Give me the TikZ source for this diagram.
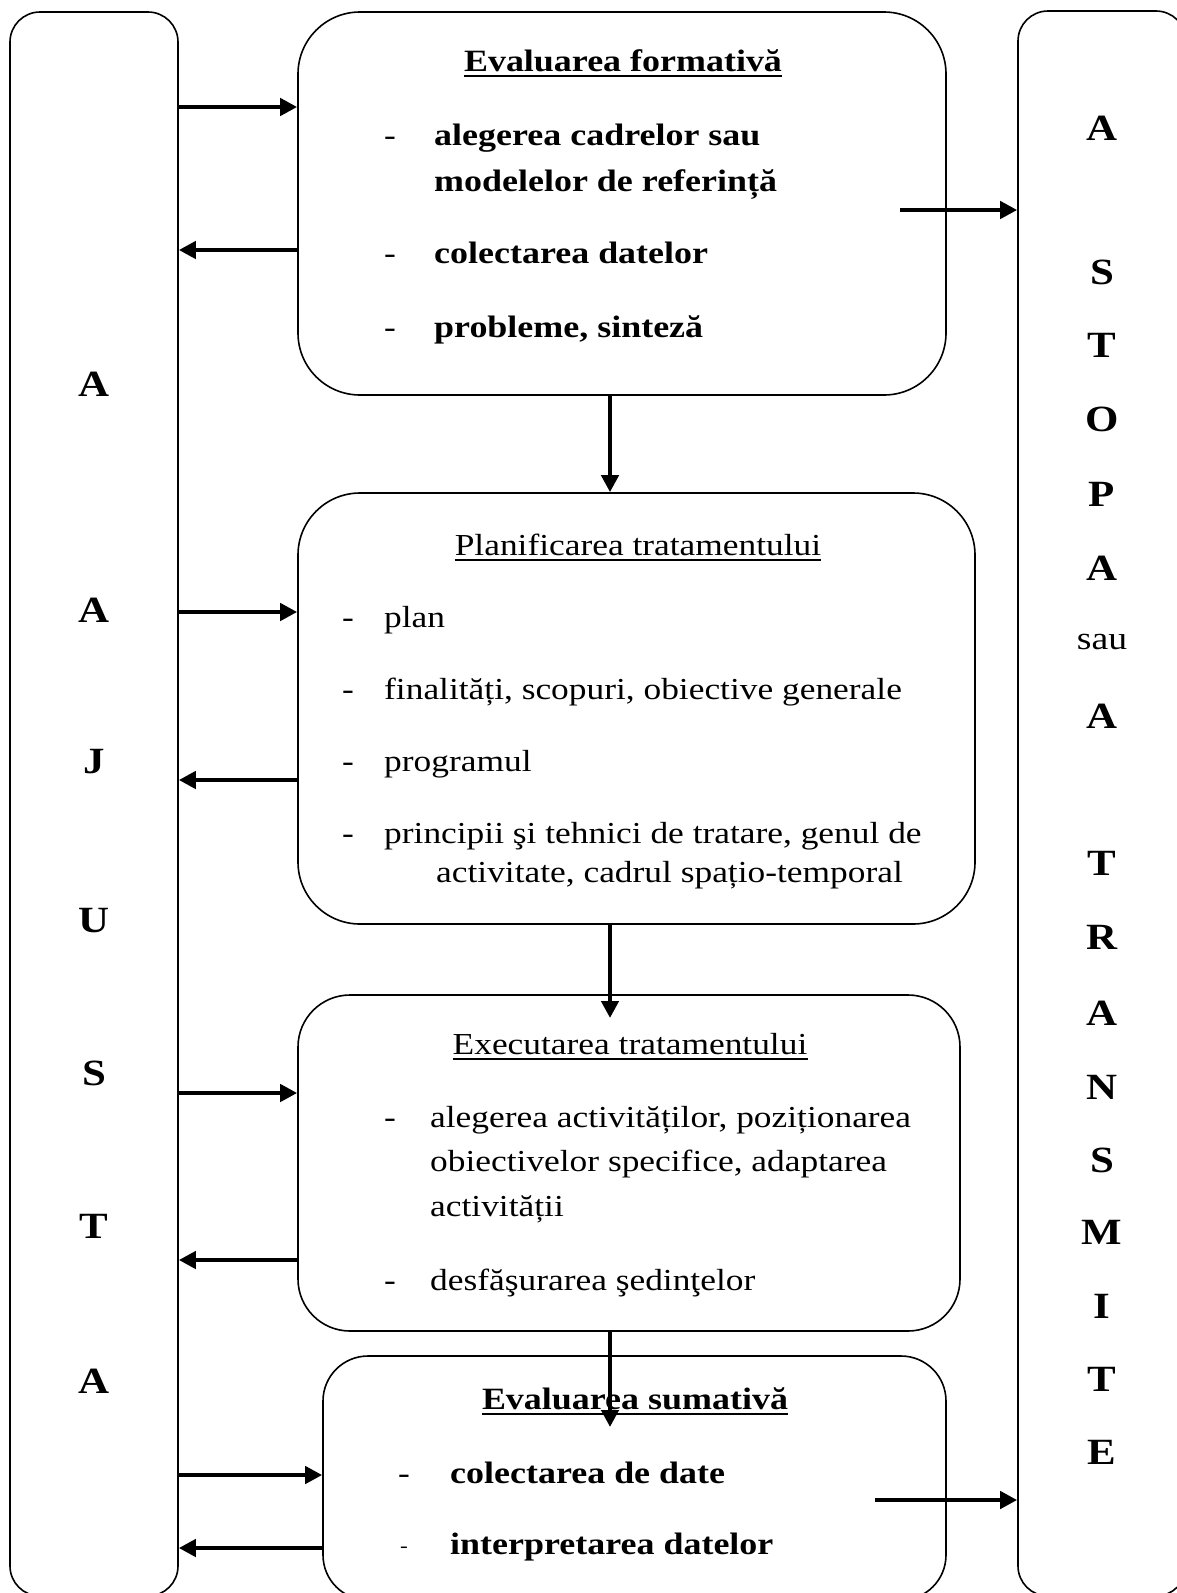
\documentclass[tikz,border=0pt]{standalone}
\usepackage{fontspec}
\setmainfont{Liberation Serif}[FakeStretch=1.16]
\usetikzlibrary{arrows.meta}
\begin{document}
\begin{tikzpicture}[x=1pt,y=-1pt,
  frame/.style={draw, line width=1.6pt, rectangle, inner sep=0pt},
  arr/.style={line width=4.5pt, -{Triangle[length=17pt,width=17pt]}},
  txt/.style={inner sep=0pt, anchor=base west, font=\fontsize{30.5}{36}\selectfont},
  txtb/.style={inner sep=0pt, anchor=base west, font=\fontsize{31}{36}\selectfont\bfseries},
  head/.style={inner sep=0pt, anchor=base, font=\fontsize{30.5}{36}\selectfont},
  headb/.style={inner sep=0pt, anchor=base, font=\fontsize{31}{36}\selectfont\bfseries},
  bullet/.style={inner sep=0pt, anchor=base, font=\fontsize{30.5}{36}\selectfont},
  letter/.style={inner sep=0pt, font=\fontsize{37}{42}\selectfont\bfseries},
  uline/.style={line width=1.6pt}
]
\clip (0,0) rectangle (1177,1593);

% side columns
\node[frame, rounded corners=30pt, minimum width=168pt, minimum height=1584pt] (L) at (94,804) {};
\node[frame, rounded corners=30pt, minimum width=168pt, minimum height=1585pt] (R) at (1102,803.5) {};

% stage boxes
\node[frame, rounded corners=62pt, minimum width=648pt, minimum height=383pt] (b1) at (622,203.5) {};
\node[frame, rounded corners=62pt, minimum width=677pt, minimum height=431pt] (b2) at (636.5,708.5) {};
\node[frame, rounded corners=52pt, minimum width=662pt, minimum height=336pt] (b3) at (629,1163) {};
\node[frame, rounded corners=45pt, minimum width=623pt, minimum height=244pt] (b4) at (634.5,1478) {};

% left column letters
\foreach \ch/\yy/\nm in {A/384/l1, A/610/l2, J/762/l3, U/921/l4, S/1073/l5, T/1226/l6, A/1381/l7}
  \node[letter] (\nm) at (94,\yy) {\ch};

% right column letters
\foreach \ch/\yy/\nm in {A/128/r1, S/272/r2, T/345/r3, O/419/r4, P/494/r5, A/568/r6,
    A/716/r8, T/863/r9, R/937/r10, A/1013/r11, N/1087/r12, S/1160/r13, M/1232/r14,
    I/1306/r15, T/1379/r16, E/1452/r17}
  \node[letter] (\nm) at (1102,\yy) {\ch};
\node[inner sep=0pt, font=\fontsize{32.5}{38}\selectfont] (r7) at (1102,642) {sau};

% box 1
\node[headb] (t1) at (623,71) {Evaluarea formativă};
\draw[uline] ([yshift=-5pt]t1.base west) -- ([yshift=-5pt]t1.base east);
\node[bullet] (d11) at (390,145) {-};
\node[txtb] (e11) at (434,145) {alegerea cadrelor sau};
\node[txtb] (e12) at (434,191) {modelelor de referință};
\node[bullet] (d12) at (390,263) {-};
\node[txtb] (e13) at (434,263) {colectarea datelor};
\node[bullet] (d13) at (390,337) {-};
\node[txtb] (e14) at (434,337) {probleme, sinteză};

% box 2
\node[head] (t2) at (638,555) {Planificarea tratamentului};
\draw[uline] ([yshift=-5pt]t2.base west) -- ([yshift=-5pt]t2.base east);
\node[bullet] (d21) at (348,627) {-};
\node[txt] (e21) at (384,627) {plan};
\node[bullet] (d22) at (348,699) {-};
\node[txt] (e22) at (384,699) {finalități, scopuri, obiective generale};
\node[bullet] (d23) at (348,771) {-};
\node[txt] (e23) at (384,771) {programul};
\node[bullet] (d24) at (348,843) {-};
\node[txt] (e24) at (384,843) {principii şi tehnici de tratare, genul de};
\node[txt] (e25) at (436,882) {activitate, cadrul spațio-temporal};

% box 3
\node[head] (t3) at (630,1054) {Executarea tratamentului};
\draw[uline] ([yshift=-5pt]t3.base west) -- ([yshift=-5pt]t3.base east);
\node[bullet] (d31) at (390,1127) {-};
\node[txt] (e31) at (430,1127) {alegerea activităților, poziționarea};
\node[txt] (e32) at (430,1171) {obiectivelor specifice, adaptarea};
\node[txt] (e33) at (430,1216) {activității};
\node[bullet] (d32) at (390,1290) {-};
\node[txt] (e34) at (430,1290) {desfăşurarea şedinţelor};

% box 4
\node[headb] (t4) at (635,1409) {Evaluarea sumativă};
\draw[uline] ([yshift=-5pt]t4.base west) -- ([yshift=-5pt]t4.base east);
\node[bullet] (d41) at (404,1483) {-};
\node[txtb] (e41) at (450,1483) {colectarea de date};
\node[bullet, font=\fontsize{20}{24}\selectfont] (d42) at (404,1552) {-};
\node[txtb] (e42) at (450,1554) {interpretarea datelor};

% levels of the horizontal connectors
\coordinate (h1) at (0,107);
\coordinate (h2) at (0,250);
\coordinate (h3) at (0,612);
\coordinate (h4) at (0,780);
\coordinate (h5) at (0,1093);
\coordinate (h6) at (0,1260);
\coordinate (h7) at (0,1475);
\coordinate (h8) at (0,1548);
\coordinate (v) at (610,0);
\coordinate (s1) at (900,210);
\coordinate (s2) at (875,1500);
\coordinate (e2) at (610,1018);
\coordinate (e3) at (610,1427);

% feedback between the left column and the stages
\draw[arr] (L.east |- h1) -- (b1.west |- h1);
\draw[arr] (b1.west |- h2) -- (L.east |- h2);
\draw[arr] (L.east |- h3) -- (b2.west |- h3);
\draw[arr] (b2.west |- h4) -- (L.east |- h4);
\draw[arr] (L.east |- h5) -- (b3.west |- h5);
\draw[arr] (b3.west |- h6) -- (L.east |- h6);
\draw[arr] (L.east |- h7) -- (b4.west |- h7);
\draw[arr] (b4.west |- h8) -- (L.east |- h8);

% outputs to the right column
\draw[arr] (s1) -- (R.west |- s1);
\draw[arr] (s2) -- (R.west |- s2);

% flow between stages
\draw[arr] (b1.south -| v) -- (b2.north -| v);
\draw[arr] (b2.south -| v) -- (e2);
\draw[arr] (b3.south -| v) -- (e3);
\end{tikzpicture}
\end{document}
